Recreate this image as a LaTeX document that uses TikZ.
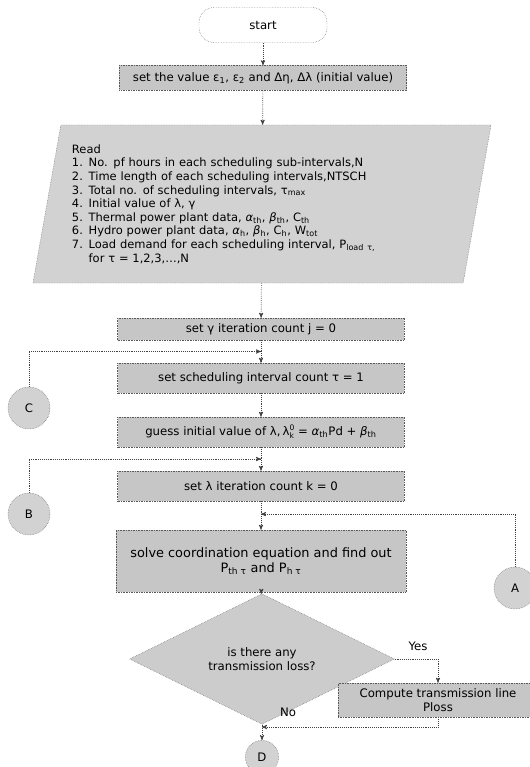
\documentclass[tikz,border=0pt]{standalone}
\usepackage{fontspec}
\setmainfont{DejaVu Sans}
\usepackage{tikz}
\usetikzlibrary{calc,positioning,arrows,shapes.geometric}
\newcommand{\sbs}[1]{\textsubscript{#1}}
\tikzset{
    >=stealth',
    procbox/.style={
        rectangle,
        draw=black!65, densely dotted,
        fill=gray!45,
        minimum width=8.6cm,
        minimum height=0.9cm,
        inner sep=1pt,
        text centered,
        font=\fontsize{10}{12}\selectfont
    },
    readbox/.style={
        trapezium,
        trapezium left angle=76.8,
        trapezium right angle=103.2,
        trapezium stretches body,
        draw=black!65, densely dotted,
        fill=gray!35,
        minimum width=13.74cm,
        minimum height=4.74cm,
        inner sep=0pt,
        text width=11.4cm,
        align=left,
        font=\fontsize{9.8}{11.6}\selectfont
    },
    termbox/.style={
        rectangle,
        rounded corners=0.45cm,
        draw=black!70, densely dotted,
        fill=white,
        minimum width=3.84cm,
        minimum height=1.05cm,
        font=\fontsize{10}{12}\selectfont
    },
    decision/.style={
        diamond,
        draw=black!65, densely dotted,
        fill=gray!40,
        minimum width=7.95cm,
        minimum height=2.46cm,
        inner sep=0pt,
        align=center,
        font=\fontsize{10}{12}\selectfont
    },
    line/.style={draw, black!75, densely dotted, semithick, ->}
}

\begin{document}
\begin{tikzpicture}[
            x=0.03cm, y=-0.03cm,
            conn/.style={
                circle,
                draw=black!65, densely dotted,
                fill=gray!35,
                minimum size=1.26cm,
                inner sep=0pt,
                font=\fontsize{10}{12}\selectfont
            },
            tag/.style={font=\fontsize{10}{12}\selectfont}]
    \useasboundingbox (0,0) rectangle (529,767);

    \node[termbox] (start) at (263,25) {start};
    \node[procbox, minimum width=8.61cm, minimum height=0.75cm] (init) at (263,78)
        {set the value ε\sbs{1}, ε\sbs{2} and Δη, Δλ (initial value)};
    \node[readbox] (read) at (262,204) {Read\\
        1. No. pf hours in each scheduling sub-intervals,N\\
        2. Time length of each scheduling intervals,NTSCH\\
        3. Total no. of scheduling intervals, τ\sbs{max}\\
        4. Initial value of λ, γ\\
        5. Thermal power plant data, \textit{α}\sbs{th}, \textit{β}\sbs{th}, C\sbs{th}\\
        6. Hydro power plant data, \textit{α}\sbs{h}, \textit{β}\sbs{h}, C\sbs{h}, W\sbs{tot}\\
        7. Load demand for each scheduling interval, P\sbs{load τ,}\\
        \phantom{7. }for τ = 1,2,3,\dots,N};
    \node[procbox, minimum height=0.66cm] (gammacount) at (261,329) {set γ iteration count j = 0};
    \node[procbox] (taucount) at (261,378) {set scheduling interval count τ = 1};
    \node[procbox] (guess) at (261,432)
        {guess initial value of λ,\,λ$_{\mbox{\fontsize{6.5}{6.5}\selectfont k}}^{\mbox{\fontsize{6.5}{6.5}\selectfont 0}}$\;= \textit{α}\sbs{th}Pd + \textit{β}\sbs{th}};
    \node[procbox] (lambdacount) at (261,486) {set λ iteration count k = 0};
    \node[procbox, minimum width=8.7cm, minimum height=1.86cm, align=center,
          font=\fontsize{11}{13}\selectfont] (solve) at (261,561)
        {solve coordination equation and find out\\P\sbs{th τ} and P\sbs{h τ}};
    \node[decision] (loss) at (262,659) {is there any\\transmission loss?};
    \node[procbox, minimum width=6cm, minimum height=1.02cm, align=center] (ploss) at (438,700)
        {Compute transmission line\\Ploss};

    \node[conn] (C) at (29,408) {C};
    \node[conn] (B) at (29,514) {B};
    \node[conn] (A) at (515,588) {A};
    \node[conn, minimum size=1.0cm] (D) at (262,757) {D};

    \node[tag] (yes) at (418,646) {Yes};
    \node[tag] (no) at (288,712) {No};

    \coordinate (mergeC) at ($(gammacount.south)!0.5!(taucount.north)$);
    \coordinate (mergeB) at ($(guess.south)!0.5!(lambdacount.north)$);
    \coordinate (mergeA) at ($(lambdacount.south)!0.45!(solve.north)$);
    \coordinate (mergeD) at (262,727);

    \draw[line] (start) -- (init);
    \draw[line] (init) -- (read);
    \draw[line] (read) -- (gammacount);
    \draw[line] (gammacount) -- (taucount);
    \draw[line] (C.north) |- (mergeC);
    \draw[line] (taucount) -- (guess);
    \draw[line] (guess) -- (lambdacount);
    \draw[line] (B.north) |- (mergeB);
    \draw[line] (lambdacount) -- (solve);
    \draw[line] (A.north) |- (mergeA);
    \draw[line] (solve) -- (loss);
    \draw[line] (loss.east) -| (ploss.north);
    \draw[line] (loss.south) -- (D.north);
    \draw[line] (ploss.south) |- (mergeD);
\end{tikzpicture}
\end{document}
